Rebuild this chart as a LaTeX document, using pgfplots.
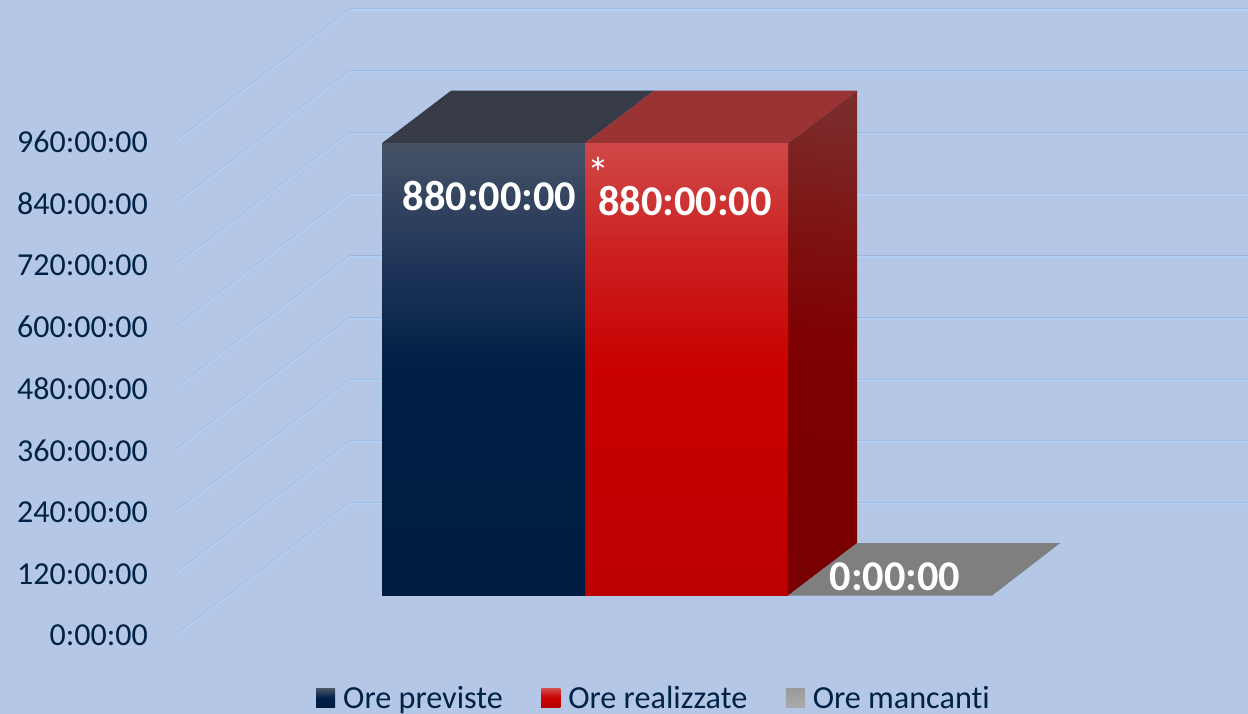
\documentclass[border=0pt]{standalone}
\usepackage{fontspec}
\setmainfont[Ligatures=NoCommon]{Carlito}
\usepackage{pgfplots}
\usepackage{pgfplotstable}
\pgfplotsset{compat=1.18}

\definecolor{bgcol}{HTML}{B4C7E7}
\definecolor{txtcol}{HTML}{002246}
\definecolor{gridlight}{HTML}{B0D0F8}
\definecolor{griddark}{HTML}{93A9C8}
\definecolor{bluetop}{HTML}{363B47}
\definecolor{redtop}{HTML}{9A3334}
\definecolor{gray7f}{HTML}{7F7F7F}
\definecolor{ba}{HTML}{001C40}
\definecolor{bb}{HTML}{001F45}
\definecolor{bc}{HTML}{22375A}
\definecolor{bd}{HTML}{475266}
\definecolor{ra}{HTML}{BB0000}
\definecolor{rb}{HTML}{C80000}
\definecolor{rc}{HTML}{CC2020}
\definecolor{rd}{HTML}{D04848}
\definecolor{sa}{HTML}{780000}
\definecolor{sb}{HTML}{7E0000}
\definecolor{sc}{HTML}{7E1414}
\definecolor{sd}{HTML}{7C2A2A}
\definecolor{ga}{HTML}{ABABAB}
\definecolor{gb}{HTML}{9A9A9A}

% shadings: the path box runs from 25bp to 75bp
\pgfdeclareverticalshading{blueface}{100bp}{color(0bp)=(ba);color(25bp)=(ba);color(50bp)=(bb);color(63bp)=(bc);color(75bp)=(bd);color(100bp)=(bd)}
\pgfdeclareverticalshading{redface}{100bp}{color(0bp)=(ra);color(25bp)=(ra);color(50bp)=(rb);color(63bp)=(rc);color(75bp)=(rd);color(100bp)=(rd)}
\pgfdeclareverticalshading{redside}{100bp}{color(0bp)=(sa);color(25bp)=(sa);color(50bp)=(sb);color(63bp)=(sc);color(75bp)=(sd);color(100bp)=(sd)}
\pgfdeclareverticalshading{grayswatch}{100bp}{color(0bp)=(ga);color(25bp)=(ga);color(75bp)=(gb);color(100bp)=(gb)}

% wall grid: x is horizontal pixel position, y is hours
\pgfplotstableread{
x y
177 0
350 255
1248 255
nan nan
177 120
350 375
1248 375
nan nan
177 240
350 495
1248 495
nan nan
177 360
350 615
1248 615
nan nan
177 480
350 735
1248 735
nan nan
177 600
350 855
1248 855
nan nan
177 720
350 975
1248 975
nan nan
177 840
350 1095
1248 1095
nan nan
177 960
350 1215
1248 1215
}\gridtable

\begin{document}
\begin{tikzpicture}
\begin{axis}[
  at={(0,0)}, anchor=south west,
  scale only axis,
  width=1248pt, height=714pt,
  xmin=0, xmax=1248,
  ymin=-154.2, ymax=1234.4,
  axis background/.style={fill=bgcol},
  axis line style={draw=none},
  major tick style={draw=none},
  minor tick style={draw=none},
  major tick length=0pt,
  xtick=\empty,
  ytick={0,120,240,360,480,600,720,840,960},
  yticklabels={0:00:00,120:00:00,240:00:00,360:00:00,480:00:00,600:00:00,720:00:00,840:00:00,960:00:00},
  yticklabel style={font=\fontsize{32}{36}\selectfont, text=txtcol, anchor=east, inner sep=0pt, xshift=148pt, yshift=-1pt},
  unbounded coords=jump,
  clip=false,
  legend columns=3,
  legend style={
    at={(axis cs:654,-126.5)}, anchor=center,
    draw=none, fill=none, inner sep=0pt,
    font=\fontsize{32.2}{36}\selectfont, text=txtcol,
    nodes={inner ysep=0pt, text height=22pt, text depth=5.5pt},
    /tikz/every odd column/.append style={column sep=6pt},
    /tikz/every even column/.append style={column sep=36.5pt},
  },
]
% wall grid lines
\addplot[griddark, line width=1.2pt, forget plot, no markers] table[y expr=\thisrow{y}+1.4] {\gridtable};
\addplot[gridlight, line width=1.7pt, forget plot, no markers] table {\gridtable};

% top and side faces
\addplot[draw=none, fill=bluetop, forget plot] coordinates {(382,956) (451,1058) (654,1058) (585,956)} -- cycle;
\addplot[draw=none, fill=redtop, forget plot] coordinates {(585,956) (654,1058) (857,1058) (788,956)} -- cycle;
\addplot[draw=none, shading=redside, shading angle=-8, forget plot] coordinates {(788,76) (857,178) (857,1058) (788,956)} -- cycle;

% front faces, 880 h each on a floor that starts at 76 h
\addplot[draw=none, shading=blueface, area legend,
  legend image code/.code={\fill[shading=blueface] (0pt,-8pt) rectangle (19pt,11pt);}]
  coordinates {(382,76) (382,956) (585,956) (585,76)} -- cycle;
\addlegendentry{Ore previste}
\addplot[draw=none, shading=redface, area legend,
  legend image code/.code={\fill[shading=redface] (0pt,-8pt) rectangle (19pt,11pt);}]
  coordinates {(585,76) (585,956) (788,956) (788,76)} -- cycle;
\addlegendentry{Ore realizzate}
\addplot[draw=none, fill=gray7f, area legend,
  legend image code/.code={\fill[shading=grayswatch] (0pt,-8pt) rectangle (19pt,11pt);}]
  coordinates {(788,76) (857,178) (1060,178) (992,76)} -- cycle;
\addlegendentry{Ore mancanti}

% value labels
\node[text=white, inner sep=0pt, font=\fontsize{42.4}{48}\selectfont\bfseries] at (axis cs:489.5,853) {880:00:00};
\node[text=white, inner sep=0pt, font=\fontsize{42.4}{48}\selectfont\bfseries] at (axis cs:685,844) {880:00:00};
\node[text=white, inner sep=0pt, font=\fontsize{42.4}{48}\selectfont\bfseries] at (axis cs:895,112) {0:00:00};
\node[text=white, inner sep=0pt, anchor=base, font=\fontsize{44}{48}\selectfont] at (axis cs:598,868) {\smash{*}};
\end{axis}
\pgfresetboundingbox
\path[use as bounding box] (0,0) rectangle (1248pt,714pt);
\end{tikzpicture}
\end{document}
